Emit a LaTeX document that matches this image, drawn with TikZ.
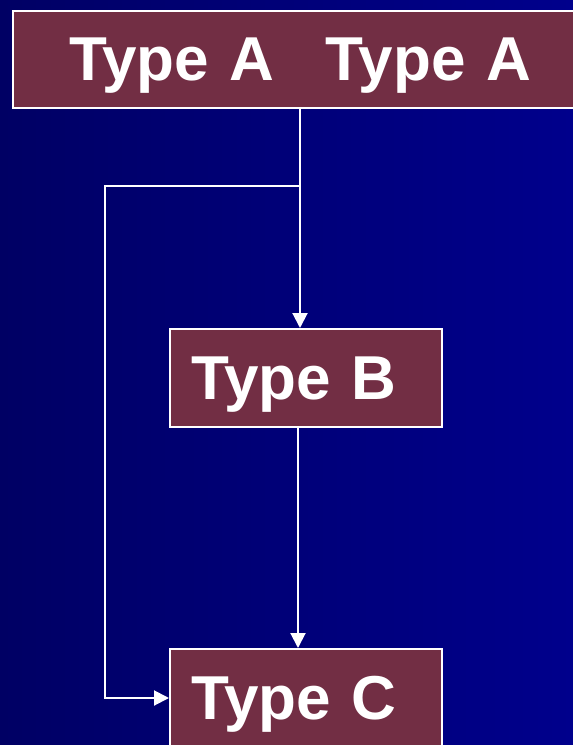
\documentclass[tikz,border=0pt]{standalone}
\usepackage{fontspec}
\setmainfont{Liberation Sans}
\usetikzlibrary{arrows.meta}
\definecolor{bgleft}{HTML}{000064}
\definecolor{bgright}{HTML}{00008C}
\definecolor{boxred}{HTML}{722E44}
\begin{document}
\begin{tikzpicture}[x=1pt,y=-1pt,line width=2pt,
    typebox/.style={draw=white,fill=boxred,text=white,font=\fontsize{62}{62}\selectfont\bfseries,
      anchor=north west,align=left,minimum height=97pt,text depth=0pt,inner ysep=0pt},
    flow/.style={white,-{Triangle[length=15pt,width=15pt]}}]
      \useasboundingbox (0,0) rectangle (573,745);
      \clip (0,0) rectangle (573,745);
      \shade[left color=bgleft,right color=bgright] (0,0) rectangle (573,745);
      \node[typebox,text width=520pt,inner xsep=56pt] (typeA) at (12,10) {Type A\hspace{51pt}Type A};
      \node[typebox,text width=230pt,inner xsep=21pt,minimum height=98pt] (typeB) at (169,328) {Type B};
      \node[typebox,text width=230pt,inner xsep=21pt,minimum height=98pt] (typeC) at (169,648) {Type C};
      \coordinate (split) at (300,186);
      \coordinate (turn) at (105,186);
      \draw[white] (split |- typeA.south) -- (split);
      \draw[flow] (split) -- (split |- typeB.north);
      \draw[flow] ([xshift=-8pt]typeB.south) -- ([xshift=-8pt]typeC.north);
      \draw[flow] (split) -- (turn) |- (typeC.west);
    \end{tikzpicture}
\end{document}
